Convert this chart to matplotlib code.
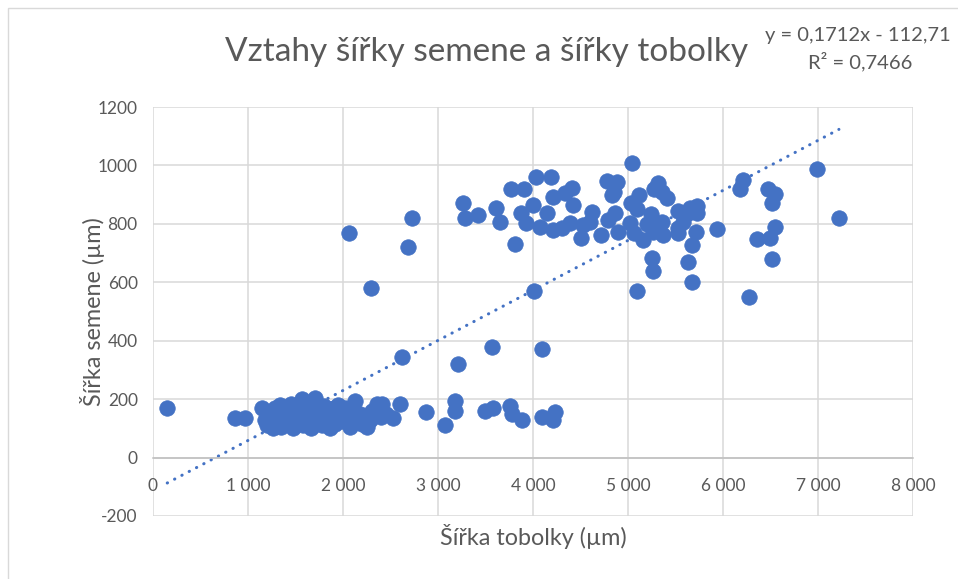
import numpy as np
import matplotlib
matplotlib.use("Agg")
import matplotlib.pyplot as plt
from matplotlib.patches import Rectangle

plt.rcParams['font.family'] = ['Lato', 'DejaVu Sans']
plt.rcParams['axes.unicode_minus'] = False

# seed width (um) vs capsule width (um)
cluster_x = [1150, 1180, 1200, 1220, 1250, 1260, 1280, 1300, 1320, 1340, 1350, 1380, 1400, 1410,
             1430, 1450, 1470, 1480, 1500, 1510, 1530, 1550, 1570, 1580, 1600, 1620, 1640, 1660,
             1680, 1690, 1700, 1720, 1740, 1760, 1780, 1800, 1820, 1850, 1860, 1880, 1900, 1920,
             1950, 1970, 2000, 2020, 2050, 2070, 2100, 2130, 2150, 2180, 2200, 2230, 2250, 2280,
             2300, 2360, 2400, 2410, 2450, 2530, 2600, 1330, 1460, 1560, 1650, 1750, 1910, 2120]
cluster_y = [170, 130, 110, 150, 120, 100, 170, 140, 125, 180, 105, 150, 130, 170,
             115, 185, 100, 140, 160, 120, 180, 135, 200, 110, 150, 170, 125, 100,
             190, 145, 205, 120, 160, 135, 110, 175, 150, 125, 100, 165, 140, 115,
             180, 150, 125, 170, 140, 105, 160, 195, 130, 150, 115, 140, 105, 127,
             160, 185, 140, 185, 150, 137, 185, 160, 150, 160, 140, 150, 170, 145]

low_x = [150, 860, 965, 2870, 3070, 3180, 3180, 3490, 3580, 3760, 3780, 3880, 4090, 4230, 4210]
low_y = [170, 134, 134, 155, 113, 195, 160, 160, 170, 175, 150, 130, 140, 155, 128]

mid_x = [2060, 2730, 2680, 2290, 2620, 3210, 3570, 4090, 4010, 5090, 6270]
mid_y = [768, 820, 720, 580, 343, 322, 380, 370, 569, 569, 549]

upper_x = [3260, 3285, 3420, 3610, 3650, 3770, 3900, 3810, 4030, 4190, 3870, 3930, 4000, 4070,
           4150, 4210, 4210, 4300, 4340, 4410, 4420, 4390, 4500, 4530, 4620, 4600, 4720, 4790,
           4780, 4880, 4830, 4850, 4890, 4860, 5040, 5030, 5120, 5090, 5020, 5060, 5160, 5205,
           5245, 5260, 5250, 5260, 5320, 5270, 5360, 5410, 5370, 5360, 5525, 5525, 5530, 5580,
           5600, 5630, 5650, 5730, 5730, 5720, 5670, 5630, 5670, 5940, 6180, 6210, 6360, 6990,
           6470, 6550, 6520, 6550, 6500, 6520, 7220]
upper_y = [871, 820, 830, 854, 806, 919, 919, 730, 960, 960, 837, 802, 864, 790,
           837, 892, 779, 785, 905, 922, 864, 802, 751, 795, 840, 806, 761, 813,
           947, 943, 899, 909, 772, 837, 1008, 873, 899, 850, 802, 768, 744, 799,
           833, 772, 683, 638, 940, 920, 909, 888, 761, 806, 843, 770, 785, 806,
           830, 837, 854, 861, 837, 772, 727, 669, 600, 782, 919, 950, 748, 988,
           919, 902, 871, 789, 751, 679, 820]

trend_slope = 0.1712
trend_intercept = -112.71

x_ticks = [0, 1000, 2000, 3000, 4000, 5000, 6000, 7000, 8000]
x_tick_labels = ["0", "1 000", "2 000", "3 000", "4 000", "5 000", "6 000", "7 000", "8 000"]
y_ticks = [-200, 0, 200, 400, 600, 800, 1000, 1200]

x = np.array(cluster_x + low_x + mid_x + upper_x, dtype=float)
y = np.array(cluster_y + low_y + mid_y + upper_y, dtype=float)

blue = '#4472C4'
txt = '#595959'
grid = '#d9d9d9'

fig = plt.figure(figsize=(9.58, 5.79), dpi=100)
fig.patches.append(Rectangle((8 / 958, -0.1), 1.2, 1.1 - 8 / 579, transform=fig.transFigure,
                             fill=False, edgecolor=grid, linewidth=1))
ax = fig.add_axes([153 / 958, 1 - 516 / 579, 760 / 958, 409 / 579])

ax.scatter(x, y, s=125, color=blue, edgecolors=blue, linewidths=0.5, zorder=3)

tx = np.array([x.min(), x.max()])
ax.plot(tx, trend_slope * tx + trend_intercept, color=blue, linewidth=2.2,
        linestyle=(0, (0.1, 2.6)), dash_capstyle='round', zorder=2)

ax.set_xlim(0, 8000)
ax.set_ylim(-200, 1200)
ax.set_xticks(x_ticks, x_tick_labels)
ax.set_yticks(y_ticks)
ax.grid(True, color=grid, linewidth=1.1, zorder=0)
ax.set_axisbelow(True)
for s in ['top', 'right', 'left']:
    ax.spines[s].set_visible(False)
ax.spines['bottom'].set_position(('data', 0))
ax.spines['bottom'].set_color('#bfbfbf')
ax.spines['bottom'].set_linewidth(1.1)
ax.tick_params(axis='both', length=0, labelsize=12.5, labelcolor=txt)
ax.tick_params(axis='x', pad=15)
ax.tick_params(axis='y', pad=11)

ax.set_xlabel("Šířka tobolky (µm)", fontsize=16.8, color=txt)
ax.xaxis.set_label_coords(0.5, -(524 - 516) / 409)
ax.set_ylabel("Šířka semene (µm)", fontsize=16.8, color=txt)
ax.yaxis.set_label_coords(-(153 - 105) / 760, 0.5)

fig.text(487 / 958, 1 - 52 / 579, "Vztahy šířky semene a šířky tobolky", fontsize=24,
         color=txt, ha='center', va='center')
fig.text(858 / 958, 1 - 35 / 579, "y = 0,1712x - 112,71", fontsize=14.5, color=txt,
         ha='center', va='center')
fig.text(860 / 958, 1 - 62 / 579, "R² = 0,7466", fontsize=14.5, color=txt,
         ha='center', va='center')

fig.savefig("out.png", dpi=100)
